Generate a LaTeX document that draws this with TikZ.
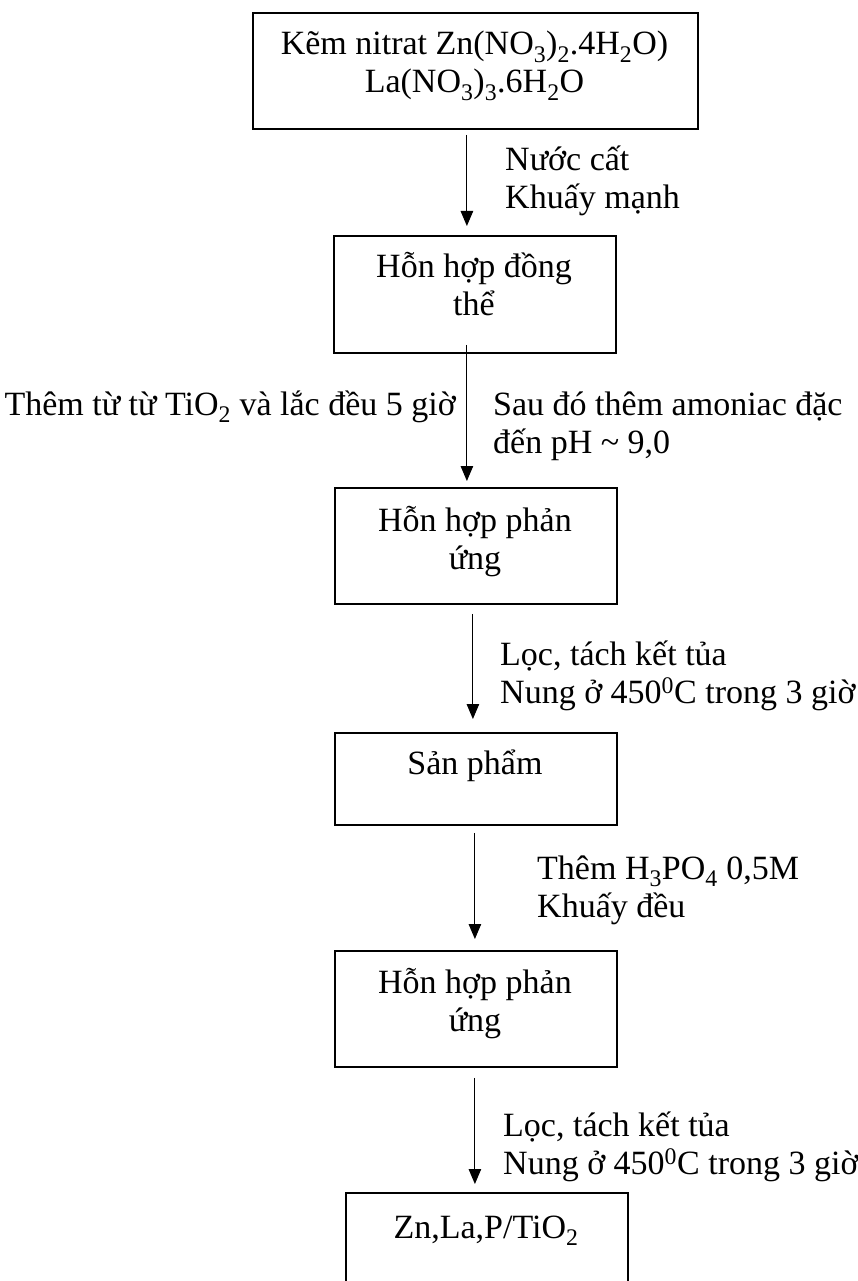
\documentclass[tikz,border=0pt]{standalone}
\usepackage{fontspec}
\setmainfont{Liberation Serif}
\usetikzlibrary{arrows.meta}
\tikzset{
  box/.style={draw, line width=1.8pt, rectangle, inner sep=0pt, anchor=north west, minimum width=282pt},
  arr/.style={line width=1.1pt, -{Triangle[width=12.5pt,length=15pt]}},
  txt/.style={inner sep=0pt, font=\fontsize{34}{38}\selectfont},
  boxtxt/.style={txt, align=center, anchor=base},
  lbl/.style={txt, align=left, anchor=base west}
}
\begin{document}
\begin{tikzpicture}[x=1pt,y=-1pt]
\clip (0,0) rectangle (857,1281);
\fill[white] (0,0) rectangle (857,1281);
% boxes
\node[box, minimum width=445pt, minimum height=116pt] (b1) at (252,12) {};
\node[box, minimum height=117pt] (b2) at (333,235) {};
\node[box, minimum height=116pt] (b3) at (334,487) {};
\node[box, minimum height=92pt] (b4) at (334,732) {};
\node[box, minimum height=116pt] (b5) at (334,950) {};
\node[box, minimum height=116pt] (b6) at (345,1192) {};
% box texts (anchored at the baseline of the last line)
\node[boxtxt] (t1) at (474.5,93) {Kẽm nitrat Zn(NO\textsubscript{3})\textsubscript{2}.4H\textsubscript{2}O)\\La(NO\textsubscript{3})\textsubscript{3}.6H\textsubscript{2}O};
\node[boxtxt] (t2) at (474,315) {Hỗn hợp đồng\\thể};
\node[boxtxt] (t3) at (475,569) {Hỗn hợp phản\\ứng};
\node[boxtxt] (t4) at (475,774) {Sản phẩm};
\node[boxtxt] (t5) at (475,1031) {Hỗn hợp phản\\ứng};
\node[boxtxt] (t6) at (486,1238) {Zn,La,P/TiO\textsubscript{2}};
% arrows
\draw[arr] ([xshift=-8.5pt,yshift=-5pt]b1.south) -- ([xshift=-8pt,yshift=9pt]b2.north);
\draw[arr] ([xshift=-8pt,yshift=9pt]b2.south) -- ([xshift=-9pt,yshift=6pt]b3.north);
\draw[arr] ([xshift=-3pt,yshift=-9pt]b3.south) -- ([xshift=-3pt,yshift=13pt]b4.north);
\draw[arr] ([xshift=-1pt,yshift=-7pt]b4.south) -- ([xshift=-1pt,yshift=11pt]b5.north);
\draw[arr] ([xshift=-1pt,yshift=-10pt]b5.south) -- ([xshift=-12pt,yshift=8pt]b6.north);
% labels (anchored at the baseline of the last line)
\node[lbl] (l1) at (505,209) {Nước cất\\Khuấy mạnh};
\node[txt, anchor=base east] (l2a) at (456,415) {Thêm từ từ TiO\textsubscript{2} và lắc đều 5 giờ};
\node[lbl] (l2b) at (493,453) {Sau đó thêm amoniac đặc\\đến pH \textasciitilde{} 9,0};
\node[lbl] (l3) at (500,703) {Lọc, tách kết tủa\\Nung ở 450\textsuperscript{0}C trong 3 giờ};
\node[lbl] (l4) at (537,917) {Thêm H\textsubscript{3}PO\textsubscript{4} 0,5M\\Khuấy đều};
\node[lbl] (l5) at (503,1174) {Lọc, tách kết tủa\\Nung ở 450\textsuperscript{0}C trong 3 giờ};
\end{tikzpicture}
\end{document}
